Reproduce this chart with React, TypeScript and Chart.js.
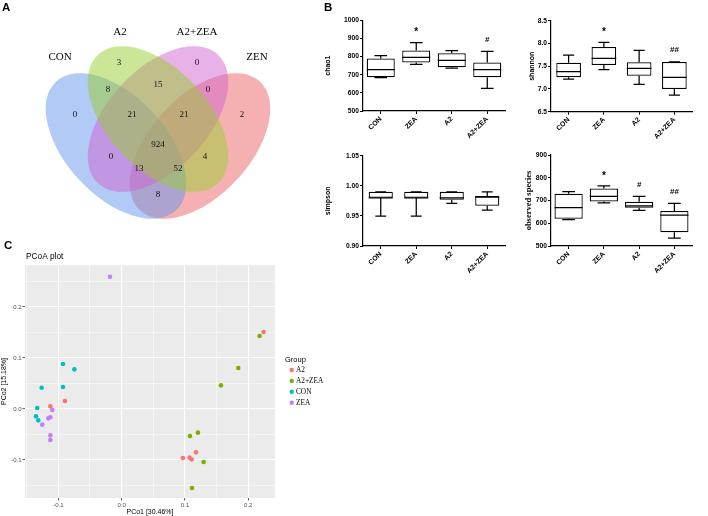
import React, { useEffect, useRef } from 'react';
import { Chart, registerables } from 'chart.js';
Chart.register(...registerables);

const SANS = '"Liberation Sans", Arial, sans-serif';
const SERIF = '"Liberation Serif", "Times New Roman", serif';

// ---------- Panel A: Venn ----------
const vennSets = ['CON', 'A2', 'A2+ZEA', 'ZEN'];
const vennColors = ['rgba(100,149,237,0.5)', 'rgba(154,205,50,0.5)', 'rgba(210,100,210,0.5)', 'rgba(235,100,100,0.5)'];
const vennDrawOrder = [3, 0, 2, 1];
// ellipse layout (unit coordinates)
const vennCx = [0.464, 0.632, 0.632, 0.8];
const vennCy = [0.376, 0.484, 0.484, 0.376];
const vennRot = [47, 47, -47, -47];
const vennA = 0.352;
const vennB = 0.2;
const vennSetLabelX = [0.24, 0.48, 0.788, 1.028];
const vennSetLabelY = [0.732, 0.832, 0.832, 0.732];
// region counts and their label anchors
const vennCounts = [0, 3, 0, 2, 8, 15, 0, 21, 21, 924, 0, 4, 13, 52, 8];
const vennCountX = [0.30, 0.476, 0.788, 0.968, 0.432, 0.632, 0.832, 0.528, 0.736, 0.632, 0.444, 0.82, 0.556, 0.712, 0.632];
const vennCountY = [0.50, 0.708, 0.708, 0.50, 0.60, 0.62, 0.60, 0.50, 0.50, 0.38, 0.332, 0.332, 0.284, 0.284, 0.18];

// ---------- Panel B: box plots ----------
const groups = ['CON', 'ZEA', 'A2', 'A2+ZEA'];

const chaoMin = [684, 757, 737, 625];
const chaoQ1 = [686, 768, 741, 686];
const chaoMed = [728, 796, 779, 728];
const chaoQ3 = [789, 833, 818, 767];
const chaoMax = [805, 877, 833, 829];
const chaoMarks = ['', '*', '', '#'];
const chaoTicks = [500, 600, 700, 800, 900, 1000];

const shannonMin = [7.218, 7.424, 7.102, 6.867];
const shannonQ1 = [7.256, 7.526, 7.292, 6.999];
const shannonMed = [7.379, 7.674, 7.454, 7.256];
const shannonQ3 = [7.577, 7.922, 7.585, 7.59];
const shannonMax = [7.746, 8.025, 7.849, 7.595];
const shannonMarks = ['', '*', '', '##'];
const shannonTicks = [6.5, 7.0, 7.5, 8.0, 8.5];

const simpsonMin = [0.9495, 0.9495, 0.9707, 0.9595];
const simpsonQ1 = [0.98, 0.98, 0.977, 0.967];
const simpsonMed = [0.98, 0.98, 0.98, 0.981];
const simpsonQ3 = [0.99, 0.99, 0.99, 0.983];
const simpsonMax = [0.99, 0.99, 0.99, 0.99];
const simpsonMarks = ['', '', '', ''];
const simpsonTicks = [0.9, 0.95, 1.0, 1.05];

const obsMin = [616, 690, 657, 535];
const obsQ1 = [620, 696, 668.5, 560];
const obsMed = [668.5, 718, 676, 636];
const obsQ3 = [730, 753, 695, 654];
const obsMax = [739, 764, 718, 687];
const obsMarks = ['', '*', '#', '##'];
const obsTicks = [500, 600, 700, 800, 900];

// ---------- Panel C: PCoA ----------
const pcoaGroups = ['A2', 'A2+ZEA', 'CON', 'ZEA'];
const pcoaColors = ['#F8766D', '#7CAE00', '#00BFC4', '#C77CFF'];
const a2X = [0.2242, -0.0895, -0.1126, 0.0968, 0.1074, 0.1105, 0.1174];
const a2Y = [0.151, 0.0157, 0.0052, -0.0961, -0.0954, -0.0987, -0.085];
const a2zeaX = [0.2179, 0.1842, 0.1568, 0.1205, 0.1079, 0.1295, 0.1111];
const a2zeaY = [0.1431, 0.0804, 0.0464, -0.0464, -0.0529, -0.1039, -0.1549];
const conX = [-0.0926, -0.0747, -0.0926, -0.1263, -0.1332, -0.1353, -0.1316];
const conY = [0.0882, 0.0778, 0.0431, 0.0418, 0.002, -0.0144, -0.0222];
const zeaX = [-0.0184, -0.1095, -0.1126, -0.1158, -0.1253, -0.1126, -0.1126];
const zeaY = [0.2595, -0.002, -0.0163, -0.0183, -0.0307, -0.0516, -0.0608];
const pcoaXs = [a2X, a2zeaX, conX, zeaX];
const pcoaYs = [a2Y, a2zeaY, conY, zeaY];
const pcoaXTicks = [-0.15, -0.1, -0.05, 0, 0.05, 0.1, 0.15, 0.2];
const pcoaYTicks = [-0.15, -0.1, -0.05, 0, 0.05, 0.1, 0.15, 0.2, 0.25];
const pcoaMajor = [-0.1, 0, 0.1, 0.2];
const pcoaMajorLabels = ['-0.1', '0.0', '0.1', '0.2'];

type Box = { left: number; top: number; width: number; height: number };

function ChartBox({ box, make }: { box: Box; make: () => any }) {
  const ref = useRef<HTMLCanvasElement>(null);
  useEffect(() => {
    const chart = new Chart(ref.current as HTMLCanvasElement, make());
    return () => chart.destroy();
  }, []);
  return (
    <div style={{ position: 'absolute', left: box.left, top: box.top, width: box.width, height: box.height }}>
      <canvas ref={ref} width={box.width} height={box.height} style={{ display: 'block', width: box.width, height: box.height }} />
    </div>
  );
}

function vennConfig() {
  const plugin = {
    id: 'venn',
    beforeDatasetsDraw(chart: any) {
      const { ctx } = chart;
      const x = chart.scales.x;
      const y = chart.scales.y;
      const unit = x.getPixelForValue(1) - x.getPixelForValue(0);
      ctx.save();
      vennDrawOrder.forEach((i) => {
        ctx.beginPath();
        ctx.ellipse(x.getPixelForValue(vennCx[i]), y.getPixelForValue(vennCy[i]), vennA * unit, vennB * unit, (vennRot[i] * Math.PI) / 180, 0, Math.PI * 2);
        ctx.fillStyle = vennColors[i];
        ctx.fill();
      });
      ctx.fillStyle = '#000';
      ctx.textAlign = 'center';
      ctx.textBaseline = 'middle';
      ctx.font = `11px ${SERIF}`;
      vennSets.forEach((s, i) => ctx.fillText(s, x.getPixelForValue(vennSetLabelX[i]), y.getPixelForValue(vennSetLabelY[i])));
      ctx.font = `9px ${SERIF}`;
      ctx.fillStyle = '#111';
      vennCounts.forEach((c, i) => ctx.fillText(String(c), x.getPixelForValue(vennCountX[i]), y.getPixelForValue(vennCountY[i])));
      ctx.restore();
    },
  };
  return {
    type: 'scatter',
    data: { datasets: [{ data: [], pointRadius: 0 }] },
    options: {
      responsive: false,
      animation: false,
      layout: { padding: 0 },
      plugins: { legend: { display: false }, tooltip: { enabled: false } },
      scales: {
        x: { type: 'linear', display: false, min: 0, max: 1.32 },
        y: { type: 'linear', display: false, min: 0, max: 0.96 },
      },
    },
    plugins: [plugin],
  };
}

type BoxParams = {
  min: number[]; q1: number[]; med: number[]; q3: number[]; max: number[]; marks: string[];
  ticks: number[]; decimals: number; title: string; titleFont: any; titlePad: number;
  yWidth: number; xHeight: number; padTop: number; padRight: number; barPct: number;
};

function boxConfig(p: BoxParams) {
  const whisker = {
    id: 'whiskers',
    afterDatasetsDraw(chart: any) {
      const { ctx } = chart;
      const y = chart.scales.y;
      const meta = chart.getDatasetMeta(0);
      ctx.save();
      ctx.strokeStyle = '#000';
      ctx.lineWidth = 1.25;
      meta.data.forEach((bar: any, i: number) => {
        const cx = bar.x;
        const w = bar.width;
        const cap = w * 0.45;
        const pMin = y.getPixelForValue(p.min[i]);
        const pQ1 = y.getPixelForValue(p.q1[i]);
        const pMed = y.getPixelForValue(p.med[i]);
        const pQ3 = y.getPixelForValue(p.q3[i]);
        const pMax = y.getPixelForValue(p.max[i]);
        ctx.beginPath();
        ctx.moveTo(cx, pQ3); ctx.lineTo(cx, pMax);
        ctx.moveTo(cx - cap / 2, pMax); ctx.lineTo(cx + cap / 2, pMax);
        ctx.moveTo(cx, pQ1); ctx.lineTo(cx, pMin);
        ctx.moveTo(cx - cap / 2, pMin); ctx.lineTo(cx + cap / 2, pMin);
        ctx.moveTo(cx - w / 2, pMed); ctx.lineTo(cx + w / 2, pMed);
        ctx.stroke();
        const mark = p.marks[i];
        if (mark) {
          ctx.fillStyle = '#000';
          ctx.textAlign = 'center';
          ctx.textBaseline = 'middle';
          if (mark === '*') {
            ctx.font = `bold 10px ${SANS}`;
            ctx.fillText(mark, cx, pMax - 10);
          } else {
            ctx.font = `bold 8px ${SANS}`;
            ctx.fillText(mark, cx, pMax - 12);
          }
        }
      });
      ctx.restore();
    },
  };
  return {
    type: 'bar',
    data: {
      labels: groups,
      datasets: [{
        data: p.q1.map((v, i) => [v, p.q3[i]]),
        backgroundColor: '#fff',
        borderColor: '#000',
        borderWidth: 1.25,
        borderSkipped: false,
        barPercentage: p.barPct,
        categoryPercentage: 1,
      }],
    },
    options: {
      responsive: false,
      animation: false,
      layout: { padding: { left: 0, top: p.padTop, right: p.padRight, bottom: 0 } },
      plugins: { legend: { display: false }, tooltip: { enabled: false } },
      scales: {
        x: {
          type: 'category',
          offset: true,
          grid: { offset: false, drawOnChartArea: false, drawTicks: true, tickLength: 3, color: '#000', lineWidth: 1 },
          border: { display: true, color: '#000', width: 1.2 },
          ticks: { autoSkip: false, minRotation: 45, maxRotation: 45, padding: 1, color: '#000', font: { family: SANS, size: 7, weight: 'bold' } },
          afterFit: (s: any) => { s.height = p.xHeight; },
        },
        y: {
          type: 'linear',
          min: p.ticks[0],
          max: p.ticks[p.ticks.length - 1],
          afterBuildTicks: (s: any) => { s.ticks = p.ticks.map((v) => ({ value: v })); },
          grid: { drawOnChartArea: false, drawTicks: true, tickLength: 3, color: '#000', lineWidth: 1 },
          border: { display: true, color: '#000', width: 1.2 },
          ticks: { padding: 1, color: '#000', font: { family: SANS, size: 6.7, weight: 'bold' }, callback: (v: any) => Number(v).toFixed(p.decimals) },
          title: { display: true, text: p.title, color: '#000', font: p.titleFont, padding: { top: p.titlePad, bottom: 0 } },
          afterFit: (s: any) => { s.width = p.yWidth; },
        },
      },
    },
    plugins: [whisker],
  };
}

function pcoaConfig() {
  const isMajor = (v: number) => pcoaMajor.some((m) => Math.abs(m - v) < 1e-9);
  const majorLabel = (v: number) => {
    const i = pcoaMajor.findIndex((m) => Math.abs(m - v) < 1e-9);
    return i >= 0 ? pcoaMajorLabels[i] : '';
  };
  const decor = {
    id: 'ggdecor',
    beforeDraw(chart: any) {
      const { ctx, chartArea: ca } = chart;
      ctx.save();
      ctx.fillStyle = '#EBEBEB';
      ctx.fillRect(ca.left, ca.top, ca.right - ca.left, ca.bottom - ca.top);
      ctx.restore();
    },
    afterDraw(chart: any) {
      const { ctx, chartArea: ca } = chart;
      ctx.save();
      ctx.fillStyle = '#000';
      ctx.textAlign = 'left';
      ctx.textBaseline = 'middle';
      ctx.font = `8.3px ${SANS}`;
      ctx.fillText('PCoA plot', ca.left + 1, ca.top - 8);
      const lx = ca.right + 10;
      const cy = (ca.top + ca.bottom) / 2;
      ctx.font = `7.5px ${SANS}`;
      ctx.fillText('Group', lx, cy - 21.5);
      pcoaGroups.forEach((g, i) => {
        const yy = cy - 11.5 + i * 10.9;
        ctx.fillStyle = pcoaColors[i];
        ctx.beginPath();
        ctx.arc(lx + 6.7, yy, 2.2, 0, Math.PI * 2);
        ctx.fill();
        ctx.fillStyle = '#000';
        ctx.font = `7.3px ${SERIF}`;
        ctx.fillText(g, lx + 11, yy);
      });
      ctx.restore();
    },
  };
  const axisCommon = (ticksArr: number[]) => ({
    type: 'linear',
    bounds: 'data',
    afterBuildTicks: (s: any) => { s.ticks = ticksArr.map((v) => ({ value: v })); },
    grid: {
      color: '#ffffff',
      lineWidth: (c: any) => (c.tick && isMajor(c.tick.value) ? 1.1 : 0.5),
      tickColor: (c: any) => (c.tick && isMajor(c.tick.value) ? '#333333' : 'rgba(0,0,0,0)'),
      tickLength: 2.5,
      tickWidth: 0.8,
    },
    border: { display: false },
    ticks: { autoSkip: false, maxRotation: 0, padding: 1, color: '#4D4D4D', font: { family: SANS, size: 6 }, callback: (v: any) => majorLabel(Number(v)) },
  });
  return {
    type: 'scatter',
    data: {
      datasets: pcoaGroups.map((g, i) => ({
        label: g,
        data: pcoaXs[i].map((x, j) => ({ x, y: pcoaYs[i][j] })),
        backgroundColor: pcoaColors[i],
        borderWidth: 0,
        pointRadius: 2.3,
        pointHoverRadius: 2.3,
      })),
    },
    options: {
      responsive: false,
      animation: false,
      layout: { padding: { left: 0, top: 17, right: 65, bottom: 0 } },
      plugins: { legend: { display: false }, tooltip: { enabled: false } },
      scales: {
        x: {
          ...axisCommon(pcoaXTicks),
          min: -0.1526,
          max: 0.2422,
          title: { display: true, text: 'PCo1 [30.46%]', color: '#000', font: { family: SANS, size: 7 }, padding: { top: 0, bottom: 0 } },
          afterFit: (s: any) => { s.height = 18; },
        },
        y: {
          ...axisCommon(pcoaYTicks),
          min: -0.1745,
          max: 0.2824,
          title: { display: true, text: 'PCo2 [15.18%]', color: '#000', font: { family: SANS, size: 7 }, padding: { top: 0, bottom: 0 } },
          afterFit: (s: any) => { s.width = 25; },
        },
      },
    },
    plugins: [decor],
  };
}

const sansTitle = { family: SANS, size: 7, weight: 'bold' };
const serifTitle = { family: SERIF, size: 8.5, weight: 'bold' };

const letterStyle = (left: number, top: number): React.CSSProperties => ({
  position: 'absolute', left, top, fontFamily: SANS, fontWeight: 'bold', fontSize: 11.5, lineHeight: 1, color: '#000',
});

export default function App() {
  return (
    <div style={{ position: 'absolute', left: 0, top: 0, width: 708, height: 516, background: '#fff', overflow: 'hidden' }}>
      <ChartBox box={{ left: 0, top: 0, width: 330, height: 240 }} make={vennConfig} />
      <ChartBox
        box={{ left: 318, top: 8, width: 195, height: 132 }}
        make={() => boxConfig({ min: chaoMin, q1: chaoQ1, med: chaoMed, q3: chaoQ3, max: chaoMax, marks: chaoMarks, ticks: chaoTicks, decimals: 0, title: 'chao1', titleFont: sansTitle, titlePad: 5.8, yWidth: 45, xHeight: 29, padTop: 12.3, padRight: 8, barPct: 0.79 })}
      />
      <ChartBox
        box={{ left: 518, top: 8, width: 190, height: 132 }}
        make={() => boxConfig({ min: shannonMin, q1: shannonQ1, med: shannonMed, q3: shannonQ3, max: shannonMax, marks: shannonMarks, ticks: shannonTicks, decimals: 1, title: 'shannon', titleFont: sansTitle, titlePad: 9.8, yWidth: 33, xHeight: 28.3, padTop: 12.7, padRight: 16, barPct: 0.7 })}
      />
      <ChartBox
        box={{ left: 318, top: 142, width: 195, height: 136 }}
        make={() => boxConfig({ min: simpsonMin, q1: simpsonQ1, med: simpsonMed, q3: simpsonQ3, max: simpsonMax, marks: simpsonMarks, ticks: simpsonTicks, decimals: 2, title: 'simpson', titleFont: sansTitle, titlePad: 5.8, yWidth: 45, xHeight: 32, padTop: 13.7, padRight: 8, barPct: 0.68 })}
      />
      <ChartBox
        box={{ left: 518, top: 142, width: 190, height: 136 }}
        make={() => boxConfig({ min: obsMin, q1: obsQ1, med: obsMed, q3: obsQ3, max: obsMax, marks: obsMarks, ticks: obsTicks, decimals: 0, title: 'observed species', titleFont: serifTitle, titlePad: 5.4, yWidth: 33, xHeight: 32, padTop: 13, padRight: 16, barPct: 0.8 })}
      />
      <ChartBox box={{ left: 0, top: 248, width: 340, height: 268 }} make={pcoaConfig} />
      <div style={letterStyle(2, 2)}>A</div>
      <div style={letterStyle(324, 2)}>B</div>
      <div style={letterStyle(4, 240)}>C</div>
    </div>
  );
}
